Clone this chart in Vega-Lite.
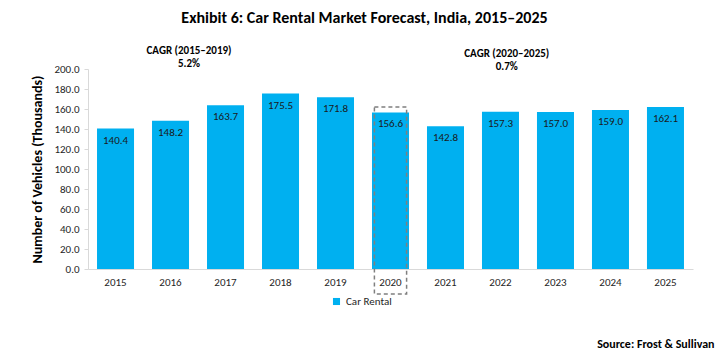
{
  "$schema": "https://vega.github.io/schema/vega-lite/v6.json",
  "width": 605,
  "height": 200,
  "autosize": {"type": "none"},
  "padding": {"left": 88, "top": 69, "right": 31, "bottom": 89},
  "background": "white",
  "config": {
    "view": {"stroke": null},
    "font": "Carlito, 'Open Sans', sans-serif",
    "axis": {"labelOverlap": false}
  },
  "title": {
    "text": "Exhibit 6: Car Rental Market Forecast, India, 2015–2025",
    "fontSize": 16,
    "fontWeight": "bold",
    "color": "#000000",
    "anchor": "middle",
    "frame": "group",
    "dx": -26,
    "offset": 19
  },
  "datasets": {
    "bars": [
      {"year": "2015", "value": 140.4, "series": "Car Rental"},
      {"year": "2016", "value": 148.2, "series": "Car Rental"},
      {"year": "2017", "value": 163.7, "series": "Car Rental"},
      {"year": "2018", "value": 175.5, "series": "Car Rental"},
      {"year": "2019", "value": 171.8, "series": "Car Rental"},
      {"year": "2020", "value": 156.6, "series": "Car Rental"},
      {"year": "2021", "value": 142.8, "series": "Car Rental"},
      {"year": "2022", "value": 157.3, "series": "Car Rental"},
      {"year": "2023", "value": 157.0, "series": "Car Rental"},
      {"year": "2024", "value": 159.0, "series": "Car Rental"},
      {"year": "2025", "value": 162.1, "series": "Car Rental"}
    ],
    "highlight": [
      {"year": "2020", "value": 162, "bottom": -25}
    ],
    "cagr1": [
      {"year": "2016", "value": 218, "label": "CAGR (2015–2019)"},
      {"year": "2016", "value": 205, "label": "5.2%"}
    ],
    "cagr2": [
      {"year": "2022", "value": 215, "label": "CAGR (2020–2025)"},
      {"year": "2022", "value": 202, "label": "0.7%"}
    ]
  },
  "encoding": {
    "x": {
      "field": "year", "type": "ordinal",
      "scale": {"paddingInner": 0.327, "paddingOuter": 0.164},
      "axis": {
        "title": "Source: Frost & Sullivan",
        "titleFontSize": 12,
        "titleFontWeight": "bold",
        "titleColor": "#000000",
        "titleAnchor": "end",
        "titleAlign": "right",
        "titleX": 626,
        "titleY": 69,
        "labelAngle": 0,
        "labelFontSize": 11,
        "labelColor": "#262626",
        "labelPadding": 7,
        "ticks": false,
        "domainColor": "#D9D9D9",
        "domainWidth": 1
      }
    },
    "y": {
      "field": "value", "type": "quantitative",
      "scale": {"domain": [0, 200]},
      "axis": {
        "title": "Number of Vehicles (Thousands)",
        "titleFontSize": 14,
        "titleFontWeight": "bold",
        "titleColor": "#000000",
        "titlePadding": 9,
        "format": ".1f",
        "values": [0, 20, 40, 60, 80, 100, 120, 140, 160, 180, 200],
        "labelOverlap": false,
        "labelFontSize": 11,
        "labelColor": "#262626",
        "labelPadding": 5,
        "grid": false,
        "tickColor": "#D9D9D9",
        "tickSize": 4,
        "domainColor": "#D9D9D9"
      }
    }
  },
  "layer": [
    {
      "data": {"name": "bars"},
      "mark": {"type": "bar"},
      "encoding": {
        "color": {
          "field": "series", "type": "nominal",
          "scale": {"range": ["#00B0F0"]},
          "legend": {
            "title": null,
            "orient": "none",
            "legendX": 243,
            "legendY": 227,
            "symbolType": "square",
            "symbolSize": 50,
            "labelFontSize": 11,
            "labelColor": "#262626",
            "symbolStrokeWidth": 0
          }
        }
      }
    },
    {
      "data": {"name": "bars"},
      "mark": {"type": "text", "baseline": "top", "dy": 6, "fontSize": 11, "color": "#1a1a1a"},
      "encoding": {
        "text": {"field": "value", "type": "quantitative", "format": ".1f"}
      }
    },
    {
      "data": {"name": "highlight"},
      "mark": {"type": "bar", "filled": false, "stroke": "#7F7F7F", "strokeWidth": 1.5, "strokeDash": [4, 3], "width": {"band": 0.87}, "clip": false},
      "encoding": {
        "y2": {"field": "bottom"}
      }
    },
    {
      "data": {"name": "cagr1"},
      "mark": {"type": "text", "fontSize": 11, "fontWeight": "bold", "color": "#000000", "baseline": "middle", "clip": false},
      "encoding": {
        "x": {"field": "year", "type": "ordinal", "bandPosition": 1},
        "text": {"field": "label"}
      }
    },
    {
      "data": {"name": "cagr2"},
      "mark": {"type": "text", "fontSize": 11, "fontWeight": "bold", "color": "#000000", "baseline": "middle", "clip": false},
      "encoding": {
        "x": {"field": "year", "type": "ordinal", "bandPosition": 0.67},
        "text": {"field": "label"}
      }
    }
  ]
}
